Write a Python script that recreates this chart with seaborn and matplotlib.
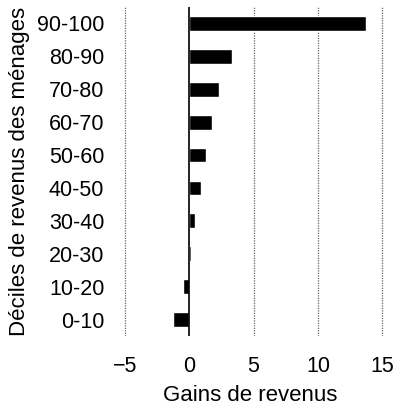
import matplotlib
matplotlib.use("Agg")
import matplotlib.pyplot as plt
import seaborn as sns
import pandas as pd

# data
deciles = ["90-100", "80-90", "70-80", "60-70", "50-60",
           "40-50", "30-40", "20-30", "10-20", "0-10"]
gains = [13.7, 3.3, 2.33, 1.78, 1.32, 0.9, 0.47, 0.13, -0.45, -1.27]
xticks = [-5, 0, 5, 10, 15]

df = pd.DataFrame({"decile": deciles, "gain": gains})

sns.set_style("white")
plt.rcParams["font.family"] = ["Liberation Sans", "DejaVu Sans"]
plt.rcParams.update({"text.color": "black", "axes.labelcolor": "black",
                     "xtick.color": "black", "ytick.color": "black"})

fig, ax = plt.subplots(figsize=(3.94, 4.05), dpi=100)
fig.subplots_adjust(left=0.279, right=0.99, top=0.983, bottom=0.17)

sns.barplot(data=df, x="gain", y="decile", order=deciles, color="black",
            width=0.45, orient="h", ax=ax, saturation=1)

for t in [-5, 5, 10, 15]:
    ax.axvline(t, color="#666666", linestyle=(0, (1, 1)), linewidth=0.9, zorder=0)
ax.axvline(0, color="black", linewidth=1.2, zorder=3)

ax.set_xlim(-6.15, 15.6)
ax.set_ylim(9.5, -0.5)
ax.set_xticks(xticks)
ax.set_xticklabels(["\u22125", "0", "5", "10", "15"])
for s in ax.spines.values():
    s.set_visible(False)
ax.tick_params(axis="both", length=0, labelsize=15.5)
ax.tick_params(axis="y", pad=4)
ax.tick_params(axis="x", pad=14)
ax.set_xlabel("Gains de revenus", fontsize=16, labelpad=6)
ax.set_ylabel("Déciles de revenus des ménages", fontsize=16, labelpad=5)

fig.savefig("out.png", dpi=100)
